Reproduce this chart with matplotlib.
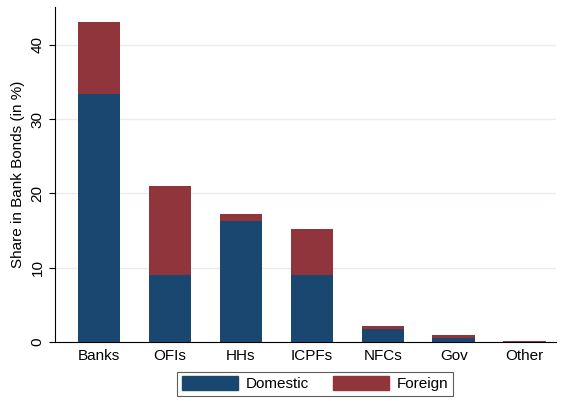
import matplotlib
matplotlib.use("Agg")
import matplotlib.pyplot as plt
from matplotlib.patches import Patch

categories = ["Banks", "OFIs", "HHs", "ICPFs", "NFCs", "Gov", "Other"]
domestic = [33.4, 9.0, 16.3, 9.0, 1.75, 0.55, 0.03]
foreign = [9.7, 12.0, 0.95, 6.2, 0.4, 0.43, 0.1]

plt.rcParams['font.family'] = ['Liberation Sans', 'DejaVu Sans']
fig = plt.figure(figsize=(5.61, 4.01), dpi=100)
ax = fig.add_axes([0.098, 0.147, 0.893, 0.8355])

c_dom = "#1a476f"
c_for = "#90353b"
x = list(range(len(categories)))
ax.bar(x, domestic, width=0.6, color=c_dom, zorder=3)
ax.bar(x, foreign, width=0.6, bottom=domestic, color=c_for, zorder=3)

ax.set_xlim(-0.62, 6.44)
ax.set_ylim(0, 45.1)
ax.set_yticks([0, 10, 20, 30, 40])
ax.set_yticklabels(["0", "10", "20", "30", "40"], rotation=90, va="center")
ax.set_xticks(x)
ax.set_xticklabels(categories)
ax.tick_params(axis='both', labelsize=11, color="black", length=4)
ax.tick_params(axis='x', length=0, pad=5)
ax.yaxis.grid(True, color="#e6eef0", linewidth=1, zorder=0)
ax.spines['top'].set_visible(False)
ax.spines['right'].set_visible(False)
ax.set_ylabel("Share in Bank Bonds (in %)", fontsize=11)

handles = [Patch(color=c_dom, label="Domestic"), Patch(color=c_for, label="Foreign")]
leg = fig.legend(handles=handles, loc="center", bbox_to_anchor=(0.5615, 0.0425), ncol=2,
                 frameon=True, fancybox=False, edgecolor="#333333", fontsize=11,
                 handlelength=3.66, handleheight=1.0, columnspacing=1.57,
                 handletextpad=0.52, borderpad=0.3, borderaxespad=0)
leg.get_frame().set_linewidth(0.8)

fig.savefig("out.png", dpi=100, facecolor="white")
